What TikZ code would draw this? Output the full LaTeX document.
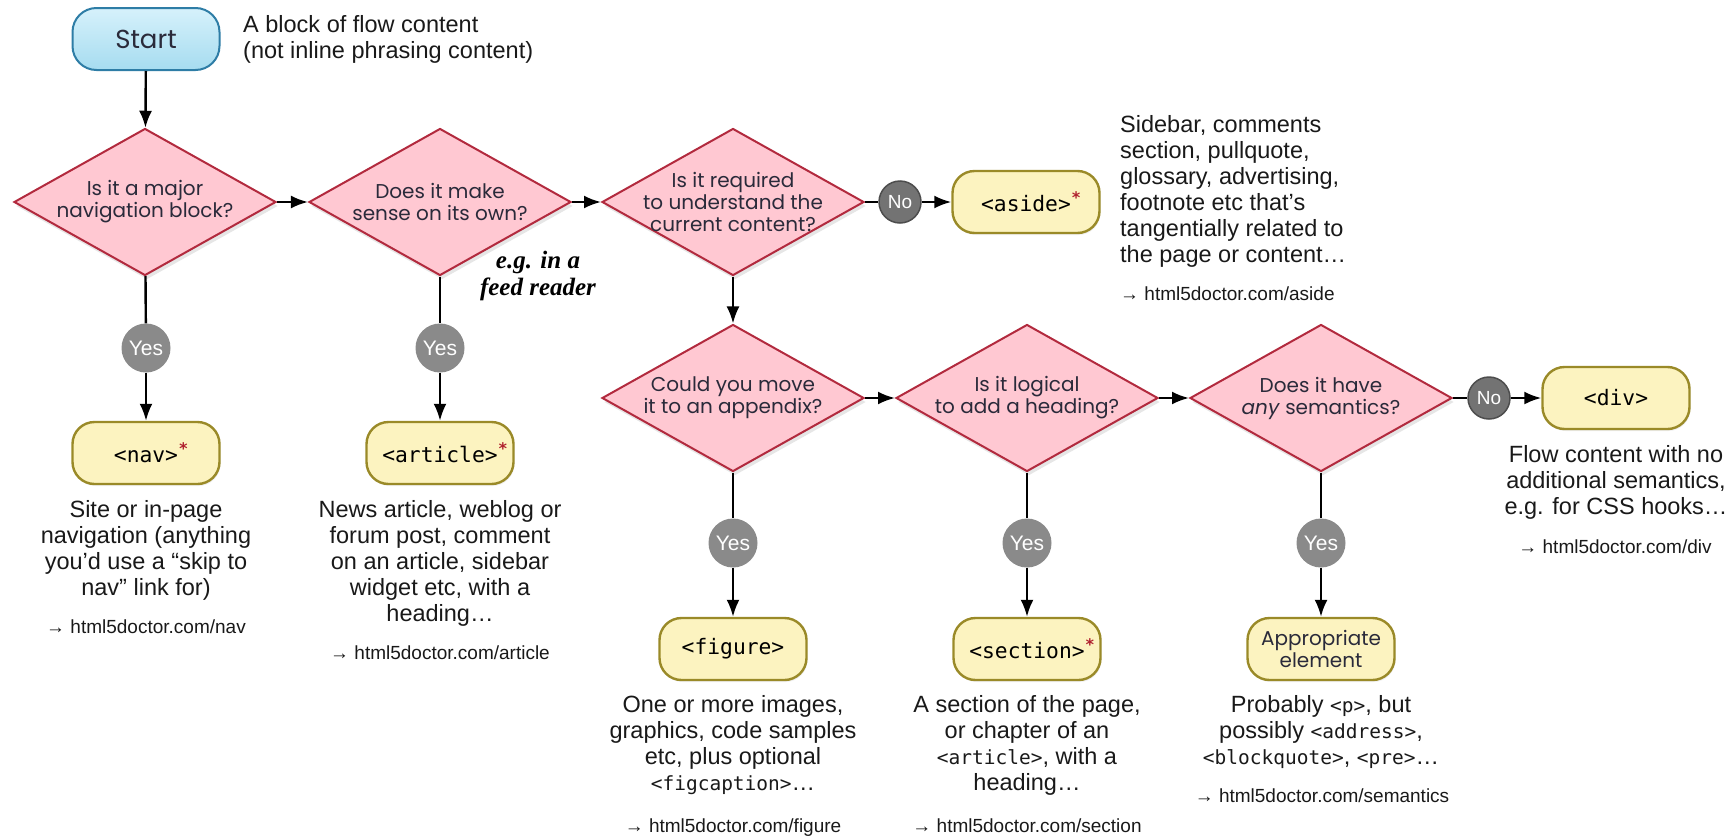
\documentclass[tikz,border=0pt]{standalone}
\usepackage{fontspec}
\setmainfont{Liberation Sans}
\newfontfamily\geofont{Poppins}
\newfontfamily\codefont{DejaVu Sans Mono}
\newfontfamily\notefont{Liberation Serif}
\usepackage{tikz}
\usetikzlibrary{arrows.meta}
\usetikzlibrary{shapes.geometric}
\usetikzlibrary{shadows}
\definecolor{qfill}{HTML}{FFC8D2}
\definecolor{qline}{HTML}{B22A3E}
\definecolor{qtextcol}{HTML}{2A2A3A}
\definecolor{efill}{HTML}{FCF3C0}
\definecolor{eline}{HTML}{9A8A28}
\definecolor{stop}{HTML}{D6F1FB}
\definecolor{sbottom}{HTML}{A6DCF0}
\definecolor{sline}{HTML}{2E7DA6}
\definecolor{yesgrey}{HTML}{8A8A8A}
\definecolor{nogrey}{HTML}{737373}
\definecolor{noline}{HTML}{4D4D4D}
\definecolor{reqred}{HTML}{B0202E}
\newcommand\htmltag[1]{{\codefont\fontsize{19.5}{26}\selectfont #1}}
\newcommand\req{\rlap{\hspace{0.5pt}\raisebox{8pt}{\color{reqred}\fontsize{16}{16}\selectfont\bfseries *}}}
\tikzset{question/.style = {diamond, draw=qline, fill=qfill, line width=2pt,
                            minimum width=262pt, minimum height=147pt, inner sep=0pt,
                            drop shadow={opacity=0.2, shadow xshift=2pt, shadow yshift=-4pt}}}
\tikzset{qtext/.style = {align=center, inner sep=0pt, text=qtextcol,
                         font=\geofont\fontsize{20}{22}\selectfont}}
\tikzset{element/.style = {rectangle, rounded corners=22pt, draw=eline, fill=efill, line width=2.4pt,
                           minimum width=147pt, minimum height=62pt, inner sep=0pt, align=center,
                           drop shadow={opacity=0.12, shadow xshift=1pt, shadow yshift=-2pt},
                           font=\codefont\fontsize{21.3}{24}\selectfont}}
\tikzset{terminal/.style = {rectangle, rounded corners=24pt, draw=sline, top color=stop, bottom color=sbottom,
                            line width=2pt, minimum width=147pt, minimum height=62pt, inner sep=0pt,
                            text=qtextcol, font=\geofont\fontsize{26}{26}\selectfont}}
\tikzset{yesdot/.style = {circle, fill=yesgrey, minimum size=49pt, inner sep=0pt, text=white,
                          font=\fontsize{21}{21}\selectfont}}
\tikzset{nodot/.style = {circle, fill=nogrey, draw=noline, line width=1.5pt, minimum size=42pt,
                         inner sep=0pt, text=white, font=\fontsize{19}{19}\selectfont}}
\tikzset{desc/.style = {align=center, inner sep=0pt, anchor=north, text=black!90,
                        font=\fontsize{23.5}{26}\selectfont}}
\tikzset{link/.style = {inner sep=0pt, anchor=base, text=black!90, font=\fontsize{19}{19}\selectfont}}
\tikzset{flow/.style = {line width=2.4pt, -{Latex[length=17pt, width=13pt]}}}
\tikzset{wire/.style = {line width=2.4pt}}

\begin{document}
\begin{tikzpicture}[x=1pt, y=-1pt]
  \useasboundingbox (0,0) rectangle (1731,838);
  \node[terminal] (start) at (146,39) {Start};
  \node[desc, anchor=north west, align=left] (startnote) at (243,15)
    {A block of flow content\\(not inline phrasing content)};

  \node[question, label={[qtext]center:{Is it a major\\navigation block?}}] (navq) at (145,202) {};
  \node[question, label={[qtext]center:{Does it make\\sense on its own?}}] (artq) at (440,202) {};
  \node[question, label={[qtext]center:{Is it required\\to understand the\\current content?}}] (asideq) at (733,202) {};
  \node[question, label={[qtext]center:{Could you move\\it to an appendix?}}] (figq) at (733,398) {};
  \node[question, label={[qtext]center:{Is it logical\\to add a heading?}}] (secq) at (1027,398) {};
  \node[question, label={[qtext]center:{Does it have\\\textit{any} semantics?}}] (semq) at (1321,398) {};

  \node[align=center, inner sep=0pt, font=\notefont\bfseries\itshape\fontsize{25}{27}\selectfont]
    (feednote) at (538,276) {e.g. in a\\feed reader};

  \node[nodot] (noaside) at (900,202) {No};
  \node[element] (aside) at (1026,202) {<aside>\req};
  \node[desc, anchor=north west, align=left] (asidetext) at (1120,115)
    {Sidebar, comments\\section, pullquote,\\glossary, advertising,\\footnote etc that’s\\tangentially related to\\the page or content…};
  \node[link, anchor=base west] (asidelink) at (1120,300) {→ html5doctor.com/aside};

  \node[nodot] (nodiv) at (1489,398) {No};
  \node[element] (div) at (1616,398) {<div>};
  \node[desc] (divtext) at (1616,445) {Flow content with no\\additional semantics,\\e.g. for CSS hooks…};
  \node[link] (divlink) at (1615,553) {→ html5doctor.com/div};

  \node[yesdot] (navyes) at (146,348) {Yes};
  \node[element] (nav) at (146,453) {<nav>\req};
  \node[desc] (navtext) at (146,500) {Site or in-page\\navigation (anything\\you’d use a “skip to\\nav” link for)};
  \node[link] (navlink) at (146,633) {→ html5doctor.com/nav};

  \node[yesdot] (artyes) at (440,348) {Yes};
  \node[element] (article) at (440,453) {<article>\req};
  \node[desc] (arttext) at (440,500) {News article, weblog or\\forum post, comment\\on an article, sidebar\\widget etc, with a\\heading…};
  \node[link] (artlink) at (440,659) {→ html5doctor.com/article};

  \node[yesdot] (figyes) at (733,543) {Yes};
  \node[element] (figure) at (733,649) {<figure>};
  \node[desc] (figtext) at (733,695) {One or more images,\\graphics, code samples\\etc, plus optional\\\htmltag{<figcaption>}…};
  \node[link] (figlink) at (733,832) {→ html5doctor.com/figure};

  \node[yesdot] (secyes) at (1027,543) {Yes};
  \node[element] (section) at (1027,649) {<section>\req};
  \node[desc] (sectext) at (1027,695) {A section of the page,\\or chapter of an\\\htmltag{<article>}, with a\\heading…};
  \node[link] (seclink) at (1027,832) {→ html5doctor.com/section};

  \node[yesdot] (semyes) at (1321,543) {Yes};
  \node[element, font=\geofont\fontsize{20}{22}\selectfont, text=qtextcol] (appr) at (1321,649) {Appropriate\\element};
  \node[desc] (semtext) at (1321,695) {Probably \htmltag{<p>}, but\\possibly \htmltag{<address>},\\\htmltag{<blockquote>}, \htmltag{<pre>}…};
  \node[link] (semlink) at (1322,802) {→ html5doctor.com/semantics};

  \draw[flow] (start) -- (navq);
  \draw[flow] (navq) -- (artq);
  \draw[flow] (artq) -- (asideq);
  \draw[wire] (asideq) -- (noaside);
  \draw[flow] (noaside) -- (aside);
  \draw[flow] (asideq) -- (figq);
  \draw[flow] (figq) -- (secq);
  \draw[flow] (secq) -- (semq);
  \draw[wire] (semq) -- (nodiv);
  \draw[flow] (nodiv) -- (div);
  \foreach \q/\a/\e in {navq/navyes/nav, artq/artyes/article, figq/figyes/figure,
                        secq/secyes/section, semq/semyes/appr} {
    \draw[wire] (\q) -- (\a);
    \draw[flow] (\a) -- (\e);
  }
\end{tikzpicture}
\end{document}
